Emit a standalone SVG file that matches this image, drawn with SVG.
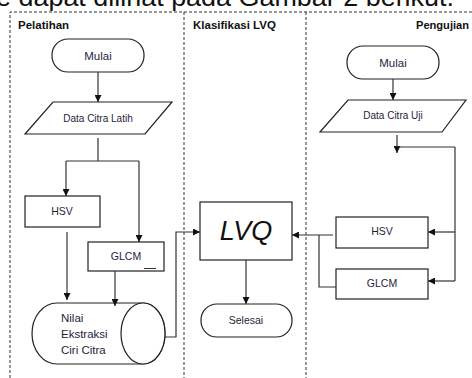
<svg xmlns="http://www.w3.org/2000/svg" width="472" height="378" viewBox="0 0 472 378">
  <style>
    .frame { fill: none; stroke: #333; stroke-width: 1; stroke-dasharray: 3 2; }
    .box { fill: #fff; stroke: #222; stroke-width: 1.2; }
    .line { fill: none; stroke: #333; stroke-width: 1.2; }
    .lbl { font-family: "Liberation Sans", "Open Sans", sans-serif; font-size: 10.5px; fill: #1e1e3c; text-anchor: middle; dominant-baseline: central; }
    .head { font-family: "Liberation Sans", "Open Sans", sans-serif; font-size: 11.5px; font-weight: bold; fill: #111; }
    .big { font-family: "Liberation Sans", "Open Sans", sans-serif; font-size: 27px; font-style: italic; fill: #111; text-anchor: middle; dominant-baseline: central; }
    .cap { font-family: "Liberation Sans", "Open Sans", sans-serif; font-size: 26px; fill: #111; }
  </style>
  <defs>
    <marker id="arr" viewBox="0 0 10 10" refX="10" refY="5" markerWidth="7" markerHeight="7" markerUnits="userSpaceOnUse" orient="auto">
      <path d="M0,0 L10,5 L0,10 Z" fill="#111"/>
    </marker>
  </defs>

  <rect width="472" height="378" fill="#fff"/>

  <!-- caption line above the figure -->
  <text class="cap" x="-4" y="6" textLength="458" lengthAdjust="spacingAndGlyphs">e dapat dilihat pada Gambar 2 berikut.</text>

  <!-- swimlane frame -->
  <g id="lanes">
    <path class="frame" d="M10,378 V12 H472"/>
    <line class="frame" x1="184" y1="12" x2="184" y2="378"/>
    <line class="frame" x1="306" y1="12" x2="306" y2="378"/>
    <text class="head" x="18" y="29">Pelatihan</text>
    <text class="head" x="193" y="29">Klasifikasi LVQ</text>
    <text class="head" x="416" y="29" textLength="53" lengthAdjust="spacingAndGlyphs">Pengujian</text>
  </g>

  <!-- Pelatihan -->
  <g id="mulai-latih">
    <rect class="box" x="52" y="39" width="92" height="33" rx="16"/>
    <text class="lbl" x="98" y="56" style="font-size:11.5px">Mulai</text>
  </g>
  <g id="data-latih">
    <polygon class="box" points="53,102 172,102 145,134 25,134"/>
    <text class="lbl" x="98" y="118" style="font-size:10px">Data Citra Latih</text>
  </g>
  <g id="hsv-latih">
    <rect class="box" x="25" y="196" width="75" height="31"/>
    <text class="lbl" x="62" y="211">HSV</text>
  </g>
  <g id="glcm-latih">
    <rect class="box" x="88" y="242" width="76" height="29"/>
    <text class="lbl" x="126" y="256">GLCM</text>
    <line x1="144" y1="268.5" x2="156" y2="268.5" stroke="#333" stroke-width="1"/>
  </g>
  <g id="nilai-ekstraksi">
    <path class="box" d="M57,303 H143 A22,30.5 0 0 1 143,364 H57 A25,30.5 0 0 1 57,303 Z"/>
    <ellipse class="box" cx="143" cy="333.5" rx="22" ry="30.5"/>
    <text class="lbl" x="61" y="318" style="text-anchor:start;font-size:11.5px">Nilai</text>
    <text class="lbl" x="61" y="334" style="text-anchor:start;font-size:11.5px">Ekstraksi</text>
    <text class="lbl" x="61" y="350" style="text-anchor:start;font-size:11.5px">Ciri Citra</text>
  </g>

  <!-- Klasifikasi LVQ -->
  <g id="lvq">
    <rect class="box" x="200" y="202" width="92" height="58"/>
    <text class="big" x="246" y="231">LVQ</text>
  </g>
  <g id="selesai">
    <rect class="box" x="201" y="304" width="91" height="33" rx="16"/>
    <text class="lbl" x="246" y="320">Selesai</text>
  </g>

  <!-- Pengujian -->
  <g id="mulai-uji">
    <rect class="box" x="347" y="46" width="92" height="33" rx="16"/>
    <text class="lbl" x="393" y="63" style="font-size:11.5px">Mulai</text>
  </g>
  <g id="data-uji">
    <polygon class="box" points="348,100 466,100 442,132 320,132"/>
    <text class="lbl" x="393" y="115" style="font-size:10px">Data Citra Uji</text>
  </g>
  <g id="hsv-uji">
    <rect class="box" x="336" y="217" width="92" height="31"/>
    <text class="lbl" x="382" y="231">HSV</text>
  </g>
  <g id="glcm-uji">
    <rect class="box" x="336" y="269" width="92" height="30"/>
    <text class="lbl" x="382" y="283">GLCM</text>
  </g>

  <!-- connectors -->
  <g id="connectors">
    <line class="line" x1="98" y1="72" x2="98" y2="102" marker-end="url(#arr)"/>
    <path class="line" d="M98,138 V161"/>
    <path class="line" d="M66,161 H139"/>
    <path class="line" d="M66,161 V196" marker-end="url(#arr)"/>
    <path class="line" d="M139,161 V242" marker-end="url(#arr)"/>
    <path class="line" d="M67,232 V300" marker-end="url(#arr)"/>
    <path class="line" d="M115,271 V306" marker-end="url(#arr)"/>
    <path class="line" d="M165,337 H176 V232 H200" marker-end="url(#arr)"/>

    <line class="line" x1="246" y1="260" x2="246" y2="304" marker-end="url(#arr)"/>

    <line class="line" x1="393" y1="79" x2="393" y2="100" marker-end="url(#arr)"/>
    <path class="line" d="M397,135 V153" marker-end="url(#arr)"/>
    <path class="line" d="M455,147 H397"/>
    <path class="line" d="M455,147 V281"/>
    <path class="line" d="M455,232 H428" marker-end="url(#arr)"/>
    <path class="line" d="M455,281 H428" marker-end="url(#arr)"/>
    <path class="line" d="M333,235 H292" marker-end="url(#arr)"/>
    <path class="line" d="M319,235 V287 H336"/>
  </g>
</svg>
